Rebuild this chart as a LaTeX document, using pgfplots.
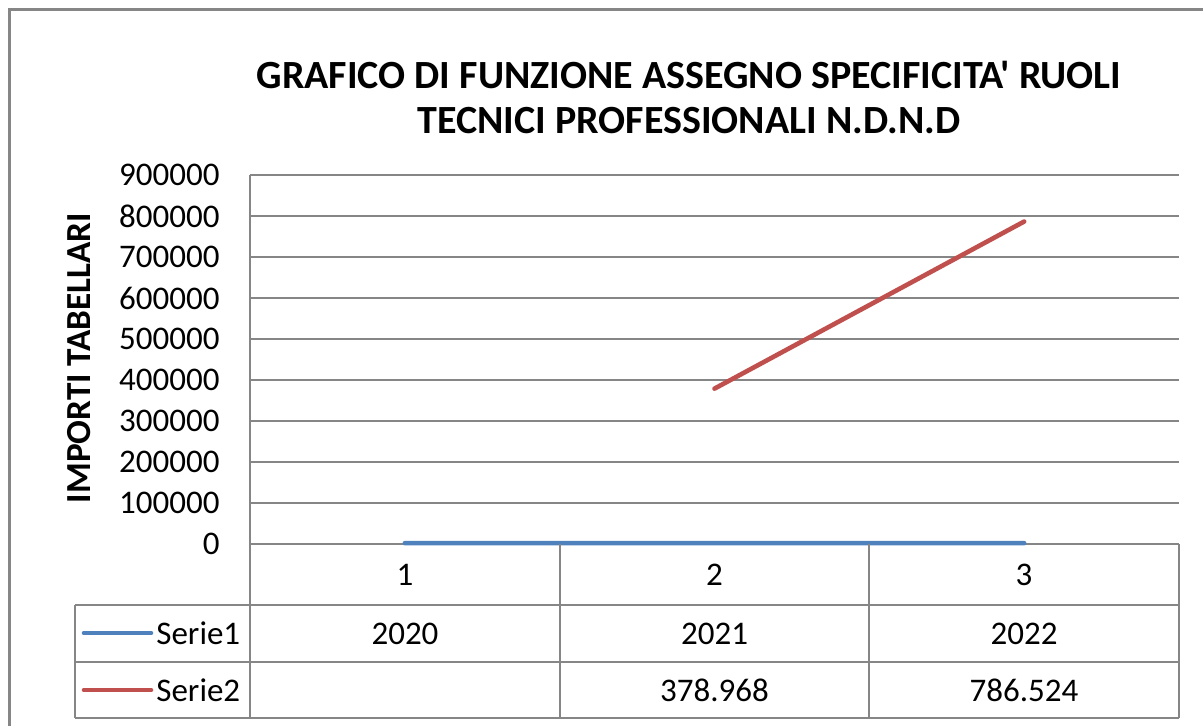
\documentclass[border=0pt]{standalone}
\usepackage{pgfplots}
\pgfplotsset{compat=1.18}
\usepackage{fontspec}
\setmainfont{Carlito}[Ligatures=TeXOff]
\definecolor{sblue}{HTML}{4F81BD}
\definecolor{sred}{HTML}{C0504D}
\definecolor{gridgray}{HTML}{868686}
\begin{document}
\begin{tikzpicture}[font=\fontsize{16.5}{19}\selectfont]
\useasboundingbox (0,0) rectangle (601.5pt,-363pt);
\draw[gridgray, line width=1.5pt] (4.5pt,-5pt) rectangle (640pt,-400pt);
\begin{axis}[
  at={(125pt,-272pt)}, anchor=south west,
  scale only axis, width=464.5pt, height=184.5pt,
  xmin=0.5, xmax=3.5, ymin=0, ymax=900000,
  ytick={0,100000,200000,300000,400000,500000,600000,700000,800000,900000},
  xtick=\empty,
  axis line style={draw=none},
  ymajorgrids, grid style={gridgray, line width=0.8pt},
  major tick length=0pt,
  scaled y ticks=false,
  yticklabel={\pgfmathprintnumber[fixed,1000 sep={},assume math mode=true]{\tick}},
  yticklabel style={anchor=east, inner sep=0pt, xshift=-15pt, font=\fontsize{16.5}{19}\selectfont},
  clip=false,
]
\addplot[sblue, line width=2.3pt, line cap=round] coordinates {(1,2020) (2,2021) (3,2022)};
\addplot[sred, line width=2.3pt, line cap=round] coordinates {(2,378968) (3,786524)};
\end{axis}
% axis line and data table
\draw[gridgray, line width=0.8pt] (125pt,-87.5pt) -- (125pt,-359pt);
\foreach \yy in {-302.5,-331,-359} \draw[gridgray, line width=0.8pt] (37.5pt,\yy pt) -- (589.5pt,\yy pt);
\foreach \xx in {280,434.5,589.5} \draw[gridgray, line width=0.8pt] (\xx pt,-272pt) -- (\xx pt,-359pt);
\draw[gridgray, line width=0.8pt] (37.5pt,-302.5pt) -- (37.5pt,-359pt);
\node at (202.5pt,-287.5pt) {1};
\node at (357.25pt,-287.5pt) {2};
\node at (512pt,-287.5pt) {3};
\node at (202.5pt,-316.75pt) {2020};
\node at (357.25pt,-316.75pt) {2021};
\node at (512pt,-316.75pt) {2022};
\node at (357.25pt,-345pt) {378.968};
\node at (512pt,-345pt) {786.524};
\draw[sblue, line width=2.3pt, line cap=round] (42pt,-316.5pt) -- (75.5pt,-316.5pt);
\draw[sred, line width=2.3pt, line cap=round] (42pt,-345pt) -- (75.5pt,-345pt);
\node[anchor=west, inner sep=0pt] at (78pt,-316.5pt) {Serie1};
\node[anchor=west, inner sep=0pt] at (78pt,-345pt) {Serie2};
% title and y label
\node[font=\bfseries\fontsize{20}{22.5}\selectfont, align=center] at (344.5pt,-48.5pt)
  {GRAFICO DI FUNZIONE ASSEGNO SPECIFICITA' RUOLI\\TECNICI PROFESSIONALI N.D.N.D};
\node[font=\bfseries\fontsize{17.6}{19}\selectfont, rotate=90] at (39.5pt,-179pt) {IMPORTI TABELLARI};
\end{tikzpicture}
\end{document}
